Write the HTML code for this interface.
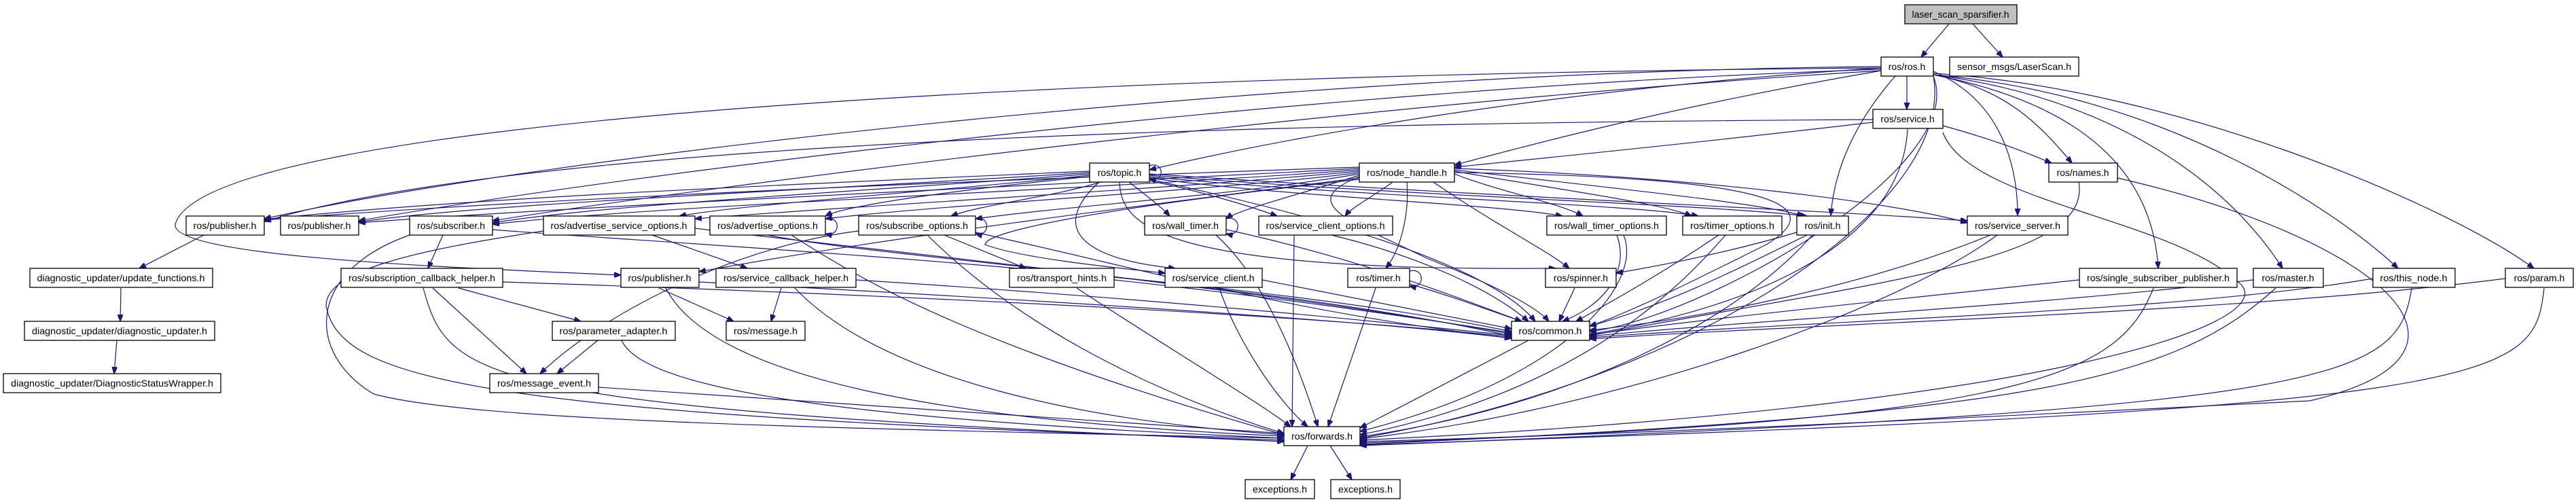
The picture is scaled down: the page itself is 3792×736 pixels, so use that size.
<!DOCTYPE html>
<html><head><meta charset="utf-8"><style>
html,body{margin:0;padding:0;background:#fff;}
svg{display:block;}
text{font-family:"Liberation Sans",sans-serif;font-size:14px;fill:#000;}
rect{fill:#fff;stroke:#000;stroke-width:1.3;}
path{fill:none;stroke:#191970;stroke-width:1.2;}
</style></head><body>
<svg width="3792" height="736" viewBox="0 0 3792 736" xmlns="http://www.w3.org/2000/svg">
<defs><marker id="a" markerUnits="userSpaceOnUse" markerWidth="11" markerHeight="8" refX="10" refY="4" orient="auto"><path d="M0,0 L10,4 L0,8 z" style="fill:#191970;stroke:#191970"/></marker></defs>
<g marker-end="url(#a)">
<!-- top -->
<path d="M2870,34 L2828,84"/>
<path d="M2903,34 L2948,84"/>
<path d="M2807,112 L2807,161"/>
<path d="M2769,104 C2500,150 2300,200 2141,243"/>
<path d="M2769,100 C2300,130 1900,200 1692,250"/>
<path d="M2769,98 C1900,105 800,230 389,322"/>
<path d="M2769,102 C1900,130 900,260 528,325"/>
<path d="M2769,104 C2000,150 1000,280 725,325"/>
<path d="M2769,100 C1500,110 300,180 258,330 C250,380 700,395 914,405"/>
<path d="M2790,112 C2730,180 2700,250 2695,317"/>
<path d="M2846,112 C2900,250 2500,470 2340,488"/>
<path d="M2846,112 C2880,300 2500,560 2002,645"/>
<path d="M2846,105 C2950,150 2970,250 2970,317"/>
<path d="M2846,110 C3100,160 3170,280 3177,395"/>
<path d="M2846,110 C3150,150 3300,300 3360,395"/>
<path d="M2846,110 C3200,140 3450,320 3530,395"/>
<path d="M2846,108 C3200,130 3600,300 3730,395"/>
<path d="M2846,110 C2950,130 3000,180 3050,240"/>
<path d="M2860,185 C2950,210 2990,228 3020,240"/>
<path d="M2757,180 C2500,210 2300,230 2141,246"/>
<path d="M2808,190 C2800,350 2600,450 2340,492"/>
<path d="M2860,195 C2900,300 3200,320 3300,420 C3350,480 3000,600 2002,648"/>
<path d="M2757,176 C2000,180 800,200 389,326"/>
<path d="M3060,268 C3080,380 2800,410 2340,494"/>
<path d="M3117,262 C3500,350 3700,520 3400,590 C3000,610 2400,640 2002,650"/>
<!-- topic -->
<path d="M1692,244 C1715,236 1715,272 1692,262"/>
<path d="M1604,252 C1200,270 700,290 389,323"/>
<path d="M1604,254 C1200,280 700,300 528,327"/>
<path d="M1604,256 C1300,280 900,300 725,328"/>
<path d="M1604,258 C1400,280 1100,300 1000,318"/>
<path d="M1604,260 C1450,275 1250,300 1215,318"/>
<path d="M1620,268 C1550,290 1450,300 1400,318"/>
<path d="M1662,268 C1690,290 1710,305 1722,318"/>
<path d="M1618,268 C1550,330 1580,380 1730,395"/>
<path d="M1692,266 C1760,280 1830,300 1880,318"/>
<path d="M1692,262 C1900,290 2200,300 2300,318"/>
<path d="M1692,260 C2000,290 2400,300 2500,318"/>
<path d="M1692,258 C2100,290 2500,300 2660,318"/>
<path d="M1692,256 C2200,290 2700,310 2896,325"/>
<path d="M1648,268 C1650,330 1700,400 2290,395"/>
<path d="M1692,264 C2000,330 2200,400 2260,473"/>
<!-- node_handle -->
<path d="M2001,246 C1600,260 800,290 389,324"/>
<path d="M2001,248 C1600,270 900,300 528,328"/>
<path d="M2001,250 C1600,280 1000,300 725,330"/>
<path d="M2001,252 C1700,280 1300,300 1023,322"/>
<path d="M2001,254 C1800,280 1400,300 1215,322"/>
<path d="M2001,256 C1800,290 1600,300 1436,322"/>
<path d="M2001,258 C1900,290 1820,310 1805,322"/>
<path d="M2050,268 C2020,290 1990,305 1980,318"/>
<path d="M2141,256 C2200,280 2300,300 2330,318"/>
<path d="M2141,252 C2300,280 2450,300 2490,318"/>
<path d="M2141,250 C2400,280 2600,300 2655,318"/>
<path d="M2141,248 C2500,260 2800,300 2896,328"/>
<path d="M2071,268 C2075,320 2060,370 2040,395"/>
<path d="M2110,268 C2200,330 2280,370 2310,395"/>
<path d="M2141,254 C2600,260 2700,300 2600,360 C2500,410 2400,460 2340,480"/>
<path d="M2001,260 C1900,300 2000,330 2100,380 C2200,420 2260,450 2280,473"/>
<path d="M2001,262 C1700,300 1300,350 1029,400"/>
<path d="M2001,264 C1500,320 1450,350 1450,360 C1500,380 1650,395 1715,402"/>
<!-- row4 -->
<path d="M300,346 L205,395"/>
<path d="M652,346 L630,395"/>
<path d="M725,338 C1000,360 1800,400 2225,488"/>
<path d="M603,346 C450,400 450,520 550,580 C700,620 1200,630 1890,645"/>
<path d="M800,340 C600,370 480,400 480,450 C500,560 700,610 1890,648"/>
<path d="M960,346 L1100,395"/>
<path d="M1023,336 C1300,370 1900,430 2225,492"/>
<path d="M1215,322 C1238,316 1238,350 1215,344"/>
<path d="M1165,346 C1250,400 1400,500 1890,640"/>
<path d="M1130,346 C1300,380 1900,420 2225,495"/>
<path d="M1436,322 C1458,316 1458,350 1436,344"/>
<path d="M1390,346 L1510,395"/>
<path d="M1264,340 C1100,360 900,450 795,550"/>
<path d="M1365,346 C1500,480 1700,580 1890,638"/>
<path d="M1436,342 C1700,400 1900,460 2225,498"/>
<path d="M1805,322 C1828,316 1828,350 1805,344"/>
<path d="M1790,346 C1850,400 1900,500 1940,628"/>
<path d="M1805,338 C2000,380 2150,440 2240,473"/>
<path d="M1905,346 L1902,628"/>
<path d="M1960,346 C2100,380 2200,430 2250,473"/>
<path d="M2380,346 C2400,400 2360,450 2300,473"/>
<path d="M2390,346 C2420,420 2300,560 2002,635"/>
<path d="M2530,346 C2450,400 2380,440 2320,473"/>
<path d="M2540,346 C2450,450 2300,580 2002,640"/>
<path d="M2645,342 C2550,370 2450,390 2379,402"/>
<path d="M2660,346 C2550,400 2450,450 2340,480"/>
<path d="M2668,346 C2550,480 2300,600 2002,643"/>
<path d="M2930,346 C2750,420 2500,470 2340,486"/>
<path d="M2940,346 C2800,450 2400,600 2002,646"/>
<!-- row5 -->
<path d="M178,424 L177,473"/>
<path d="M172,501 L168,550"/>
<path d="M675,424 L855,473"/>
<path d="M637,424 L775,550"/>
<path d="M623,424 C660,560 700,600 1890,650"/>
<path d="M740,415 C1200,430 1900,460 2225,496"/>
<path d="M970,424 L1080,473"/>
<path d="M1029,415 C1500,440 2000,470 2225,498"/>
<path d="M980,424 C1050,560 1400,620 1890,642"/>
<path d="M1150,424 L1135,473"/>
<path d="M1170,424 C1300,560 1600,620 1890,640"/>
<path d="M1260,412 C1700,440 2000,470 2225,494"/>
<path d="M1585,424 C1700,500 1850,590 1900,628"/>
<path d="M1640,412 C1900,440 2100,470 2225,490"/>
<path d="M1795,424 C1820,500 1880,590 1925,628"/>
<path d="M1858,412 C2000,440 2150,470 2225,484"/>
<path d="M2075,399 C2098,393 2098,427 2075,421"/>
<path d="M2025,424 L1955,628"/>
<path d="M2075,418 C2150,440 2200,460 2240,473"/>
<path d="M2318,424 L2295,473"/>
<path d="M3061,412 C2800,440 2500,470 2340,493"/>
<path d="M3170,424 C3120,550 3000,620 2002,652"/>
<path d="M3317,412 C3000,450 2600,470 2340,495"/>
<path d="M3350,424 C3200,560 3000,610 2002,654"/>
<path d="M3493,410 C3200,460 2700,470 2340,497"/>
<path d="M3550,424 C3530,560 3450,600 2002,656"/>
<path d="M3688,410 C3300,460 2700,475 2340,499"/>
<path d="M3745,424 C3730,560 3700,600 2002,655"/>
<!-- row6+ -->
<path d="M880,501 L820,550"/>
<path d="M915,501 C950,580 1300,620 1890,645"/>
<path d="M2250,501 L2002,630"/>
<path d="M881,570 C1300,600 1700,625 1890,638"/>
<path d="M1925,656 L1900,706"/>
<path d="M1958,656 L1990,706"/>
</g>
<!-- nodes -->
<rect x="2804" y="7" width="165" height="28" style="fill:#bfbfbf"/><text x="2886" y="26" text-anchor="middle" textLength="143" lengthAdjust="spacingAndGlyphs">laser_scan_sparsifier.h</text>
<rect x="2769" y="84" width="77" height="28"/><text x="2807" y="103" text-anchor="middle">ros/ros.h</text>
<rect x="2870" y="84" width="190" height="28"/><text x="2965" y="103" text-anchor="middle" textLength="168" lengthAdjust="spacingAndGlyphs">sensor_msgs/LaserScan.h</text>
<rect x="2757" y="161" width="103" height="28"/><text x="2808" y="180" text-anchor="middle">ros/service.h</text>
<rect x="1604" y="240" width="88" height="28"/><text x="1648" y="259" text-anchor="middle">ros/topic.h</text>
<rect x="2001" y="240" width="140" height="28"/><text x="2071" y="259" text-anchor="middle" textLength="118" lengthAdjust="spacingAndGlyphs">ros/node_handle.h</text>
<rect x="3016" y="240" width="101" height="28"/><text x="3066" y="259" text-anchor="middle">ros/names.h</text>
<rect x="274" y="318" width="115" height="28"/><text x="331" y="337" text-anchor="middle" textLength="93" lengthAdjust="spacingAndGlyphs">ros/publisher.h</text>
<rect x="413" y="318" width="115" height="28"/><text x="470" y="337" text-anchor="middle" textLength="93" lengthAdjust="spacingAndGlyphs">ros/publisher.h</text>
<rect x="603" y="318" width="122" height="28"/><text x="664" y="337" text-anchor="middle" textLength="100" lengthAdjust="spacingAndGlyphs">ros/subscriber.h</text>
<rect x="800" y="318" width="223" height="28"/><text x="911" y="337" text-anchor="middle" textLength="201" lengthAdjust="spacingAndGlyphs">ros/advertise_service_options.h</text>
<rect x="1045" y="318" width="170" height="28"/><text x="1130" y="337" text-anchor="middle" textLength="148" lengthAdjust="spacingAndGlyphs">ros/advertise_options.h</text>
<rect x="1264" y="318" width="172" height="28"/><text x="1350" y="337" text-anchor="middle" textLength="150" lengthAdjust="spacingAndGlyphs">ros/subscribe_options.h</text>
<rect x="1685" y="318" width="120" height="28"/><text x="1745" y="337" text-anchor="middle" textLength="98" lengthAdjust="spacingAndGlyphs">ros/wall_timer.h</text>
<rect x="1853" y="318" width="197" height="28"/><text x="1951" y="337" text-anchor="middle" textLength="175" lengthAdjust="spacingAndGlyphs">ros/service_client_options.h</text>
<rect x="2277" y="318" width="176" height="28"/><text x="2365" y="337" text-anchor="middle" textLength="154" lengthAdjust="spacingAndGlyphs">ros/wall_timer_options.h</text>
<rect x="2477" y="318" width="146" height="28"/><text x="2550" y="337" text-anchor="middle" textLength="124" lengthAdjust="spacingAndGlyphs">ros/timer_options.h</text>
<rect x="2645" y="318" width="76" height="28"/><text x="2683" y="337" text-anchor="middle">ros/init.h</text>
<rect x="2896" y="318" width="148" height="28"/><text x="2970" y="337" text-anchor="middle" textLength="126" lengthAdjust="spacingAndGlyphs">ros/service_server.h</text>
<rect x="44" y="395" width="269" height="28"/><text x="178" y="414" text-anchor="middle" textLength="247" lengthAdjust="spacingAndGlyphs">diagnostic_updater/update_functions.h</text>
<rect x="502" y="395" width="238" height="28"/><text x="621" y="414" text-anchor="middle" textLength="216" lengthAdjust="spacingAndGlyphs">ros/subscription_callback_helper.h</text>
<rect x="914" y="395" width="115" height="28"/><text x="971" y="414" text-anchor="middle" textLength="93" lengthAdjust="spacingAndGlyphs">ros/publisher.h</text>
<rect x="1054" y="395" width="206" height="28"/><text x="1157" y="414" text-anchor="middle" textLength="184" lengthAdjust="spacingAndGlyphs">ros/service_callback_helper.h</text>
<rect x="1486" y="395" width="154" height="28"/><text x="1563" y="414" text-anchor="middle" textLength="132" lengthAdjust="spacingAndGlyphs">ros/transport_hints.h</text>
<rect x="1715" y="395" width="143" height="28"/><text x="1786" y="414" text-anchor="middle" textLength="121" lengthAdjust="spacingAndGlyphs">ros/service_client.h</text>
<rect x="1984" y="395" width="91" height="28"/><text x="2029" y="414" text-anchor="middle">ros/timer.h</text>
<rect x="2275" y="395" width="104" height="28"/><text x="2327" y="414" text-anchor="middle">ros/spinner.h</text>
<rect x="3061" y="395" width="232" height="28"/><text x="3177" y="414" text-anchor="middle" textLength="210" lengthAdjust="spacingAndGlyphs">ros/single_subscriber_publisher.h</text>
<rect x="3317" y="395" width="103" height="28"/><text x="3368" y="414" text-anchor="middle">ros/master.h</text>
<rect x="3493" y="395" width="121" height="28"/><text x="3553" y="414" text-anchor="middle" textLength="99" lengthAdjust="spacingAndGlyphs">ros/this_node.h</text>
<rect x="3688" y="395" width="100" height="28"/><text x="3738" y="414" text-anchor="middle">ros/param.h</text>
<rect x="36" y="473" width="280" height="28"/><text x="176" y="492" text-anchor="middle" textLength="258" lengthAdjust="spacingAndGlyphs">diagnostic_updater/diagnostic_updater.h</text>
<rect x="813" y="473" width="181" height="28"/><text x="903" y="492" text-anchor="middle" textLength="159" lengthAdjust="spacingAndGlyphs">ros/parameter_adapter.h</text>
<rect x="1069" y="473" width="116" height="28"/><text x="1127" y="492" text-anchor="middle" textLength="94" lengthAdjust="spacingAndGlyphs">ros/message.h</text>
<rect x="2225" y="473" width="115" height="28"/><text x="2282" y="492" text-anchor="middle" textLength="93" lengthAdjust="spacingAndGlyphs">ros/common.h</text>
<rect x="5" y="550" width="320" height="28"/><text x="165" y="569" text-anchor="middle" textLength="298" lengthAdjust="spacingAndGlyphs">diagnostic_updater/DiagnosticStatusWrapper.h</text>
<rect x="721" y="550" width="160" height="28"/><text x="801" y="569" text-anchor="middle" textLength="138" lengthAdjust="spacingAndGlyphs">ros/message_event.h</text>
<rect x="1890" y="628" width="112" height="28"/><text x="1946" y="647" text-anchor="middle" textLength="90" lengthAdjust="spacingAndGlyphs">ros/forwards.h</text>
<rect x="1833" y="706" width="102" height="28"/><text x="1884" y="725" text-anchor="middle" textLength="80" lengthAdjust="spacingAndGlyphs">exceptions.h</text>
<rect x="1959" y="706" width="102" height="28"/><text x="2010" y="725" text-anchor="middle" textLength="80" lengthAdjust="spacingAndGlyphs">exceptions.h</text>
</svg>
</body></html>
